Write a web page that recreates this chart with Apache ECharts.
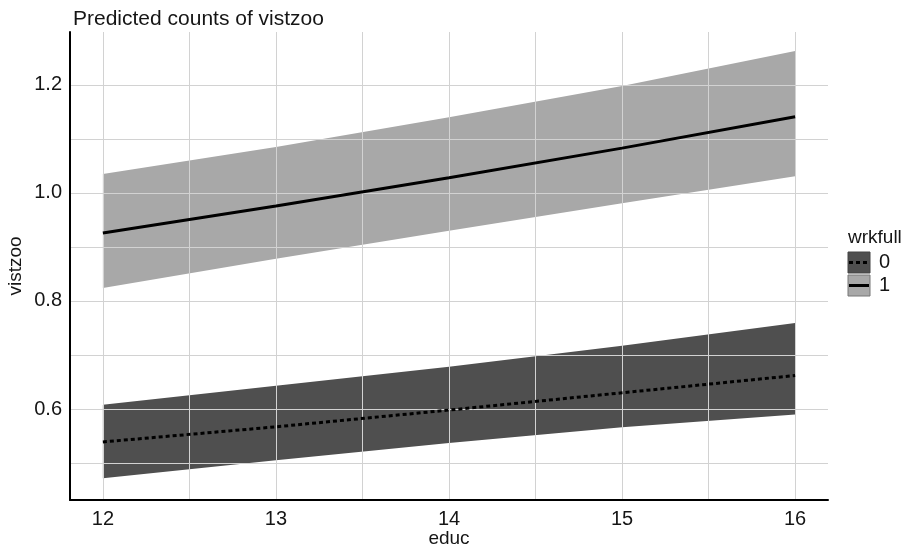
<!DOCTYPE html>
<html><head><meta charset="utf-8">
<script src="https://cdn.jsdelivr.net/npm/echarts@6/dist/echarts.min.js"></script>
<style>html,body{margin:0;padding:0;background:#fff}#c{width:909px;height:548px}</style>
</head><body><div id="c"></div>
<script>
const educ = [12, 13, 14, 15, 16];
const fit0 = [0.539, 0.567, 0.598, 0.630, 0.662];
const lo0  = [0.472, 0.505, 0.537, 0.566, 0.590];
const hi0  = [0.608, 0.643, 0.678, 0.717, 0.759];
const fit1 = [0.926, 0.976, 1.028, 1.083, 1.141];
const lo1  = [0.824, 0.878, 0.930, 0.981, 1.031];
const hi1  = [1.035, 1.085, 1.140, 1.198, 1.263];
const xTicks = [12, 13, 14, 15, 16];
const xMinor = [12.5, 13.5, 14.5, 15.5];
const yTicks = [0.6, 0.8, 1.0, 1.2];
const yMinor = [0.5, 0.7, 0.9, 1.1, 1.3];
const legendTitle = 'wrkfull';
const legendLabels = ['0', '1'];

const FONT = '"Liberation Sans", Arial, sans-serif';
const TXT = '#151515';
const GRID = '#d2d2d2';
const DARK = '#4f4f4f';
const LIGHT = '#a8a8a8';

const chart = echarts.init(document.getElementById('c'), null, {renderer: 'canvas'});
const pair = (xs, ys) => xs.map((x, i) => [x, ys[i]]);

function bandSeries(lo, hi, color) {
  return {
    type: 'custom', z: 1, silent: true,
    data: educ.map((x, i) => [x, lo[i], hi[i]]),
    encode: {x: 0, y: [1, 2]},
    renderItem: function (params, api) {
      if (params.dataIndex !== 0) return null;
      const pts = [];
      for (let i = 0; i < educ.length; i++) pts.push(api.coord([educ[i], hi[i]]));
      for (let i = educ.length - 1; i >= 0; i--) pts.push(api.coord([educ[i], lo[i]]));
      return {type: 'polygon', shape: {points: pts}, style: {fill: color, stroke: null}};
    }
  };
}

const xBase = {type: 'value', min: 11.81, max: 16.19, gridIndex: 0, z: 3};
const yBase = {type: 'value', min: 0.4315, max: 1.298, gridIndex: 0, z: 3};

chart.setOption({
  backgroundColor: '#fff',
  animation: false,
  title: {text: 'Predicted counts of vistzoo', left: 68, top: 4,
    textStyle: {fontFamily: FONT, fontSize: 21, fontWeight: 'normal', color: TXT}},
  grid: {left: 70, right: 81, top: 32, bottom: 48, outerBoundsMode: 'none'},
  xAxis: [
    Object.assign({}, xBase, {
      name: 'educ', nameLocation: 'middle', nameGap: 29, nameMoveOverlap: false,
      nameTextStyle: {fontFamily: FONT, fontSize: 19, color: TXT},
      axisLine: {show: true, onZero: false, lineStyle: {color: '#000', width: 2}},
      axisTick: {show: false, customValues: xTicks},
      axisLabel: {customValues: xTicks, fontFamily: FONT, fontSize: 20, color: TXT, margin: 9},
      splitLine: {show: true, lineStyle: {color: GRID, width: 1}}
    }),
    Object.assign({}, xBase, {
      position: 'bottom',
      axisLine: {show: false},
      axisTick: {show: false, customValues: xMinor},
      axisLabel: {show: false, customValues: xMinor},
      splitLine: {show: true, lineStyle: {color: GRID, width: 1}}
    })
  ],
  yAxis: [
    Object.assign({}, yBase, {
      name: 'vistzoo', nameLocation: 'middle', nameGap: 45, nameMoveOverlap: false,
      nameTextStyle: {fontFamily: FONT, fontSize: 19, color: TXT},
      axisLine: {show: true, onZero: false, lineStyle: {color: '#000', width: 2}},
      axisTick: {show: false, customValues: yTicks},
      axisLabel: {customValues: yTicks, fontFamily: FONT, fontSize: 20, color: TXT, margin: 8,
        formatter: v => v.toFixed(1)},
      splitLine: {show: true, lineStyle: {color: GRID, width: 1}}
    }),
    Object.assign({}, yBase, {
      position: 'left',
      axisLine: {show: false},
      axisTick: {show: false, customValues: yMinor},
      axisLabel: {show: false, customValues: yMinor},
      splitLine: {show: true, lineStyle: {color: GRID, width: 1}}
    })
  ],
  series: [
    bandSeries(lo0, hi0, DARK),
    bandSeries(lo1, hi1, LIGHT),
    {type: 'line', data: pair(educ, fit0), symbol: 'none', z: 5,
      lineStyle: {color: '#000', width: 3, type: [4, 3]}},
    {type: 'line', data: pair(educ, fit1), symbol: 'none', z: 5,
      lineStyle: {color: '#000', width: 3}}
  ],
  graphic: [
    {type: 'text', left: 848, top: 228, z: 10,
      style: {text: legendTitle, font: '19px ' + FONT, fill: TXT}},
    {type: 'rect', shape: {x: 848, y: 252, width: 22, height: 21}, z: 10,
      style: {fill: DARK, stroke: '#444', lineWidth: 1}},
    {type: 'line', shape: {x1: 849, y1: 262.5, x2: 869, y2: 262.5}, z: 11,
      style: {stroke: '#000', lineWidth: 3, lineDash: [4, 3]}},
    {type: 'text', left: 879, top: 252, z: 10,
      style: {text: legendLabels[0], font: '20px ' + FONT, fill: TXT}},
    {type: 'rect', shape: {x: 848, y: 275, width: 22, height: 21}, z: 10,
      style: {fill: LIGHT, stroke: '#777', lineWidth: 1}},
    {type: 'line', shape: {x1: 849, y1: 285.5, x2: 869, y2: 285.5}, z: 11,
      style: {stroke: '#000', lineWidth: 3}},
    {type: 'text', left: 879, top: 275, z: 10,
      style: {text: legendLabels[1], font: '20px ' + FONT, fill: TXT}}
  ]
});
</script>
</body></html>
